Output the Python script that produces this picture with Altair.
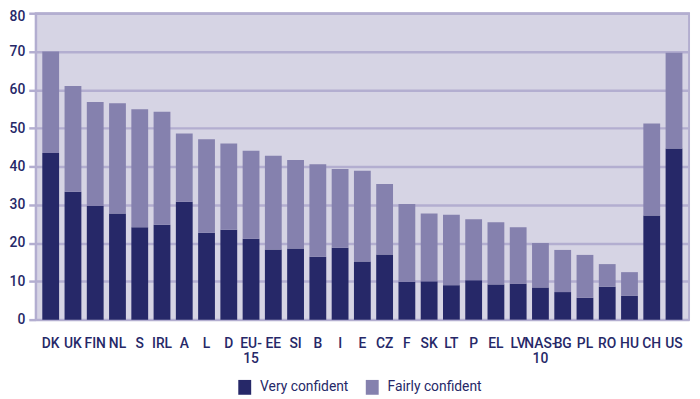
import altair as alt
import pandas as pd

countries = ["DK", "UK", "FIN", "NL", "S", "IRL", "A", "L", "D", "EU-15", "EE", "SI", "B", "I", "E",
             "CZ", "F", "SK", "LT", "P", "EL", "LV", "NAS-10", "BG", "PL", "RO", "HU", "CH", "US"]
very_confident = [43.5, 33.4, 29.7, 27.7, 24.1, 24.8, 30.8, 22.7, 23.5, 21.1, 18.3, 18.6, 16.4, 18.8, 15.2,
                  17.0, 9.9, 10.0, 9.0, 10.3, 9.2, 9.4, 8.4, 7.2, 5.7, 8.6, 6.2, 27.2, 44.7]
fairly_confident = [26.5, 27.6, 27.1, 28.8, 30.8, 29.5, 17.8, 24.4, 22.5, 23.0, 24.5, 23.1, 24.2, 20.5, 23.7,
                    18.4, 20.3, 17.7, 18.4, 15.9, 16.2, 14.7, 11.6, 11.0, 11.2, 5.9, 6.2, 24.0, 25.0]
series = ["Very confident", "Fairly confident"]
colors = ["#262868", "#8581ae"]

rows = []
for c, v, f in zip(countries, very_confident, fairly_confident):
    rows.append({"country": c, "series": series[0], "value": v, "order": 0})
    rows.append({"country": c, "series": series[1], "value": f, "order": 1})
df = pd.DataFrame(rows)

txt = "#262868"
grid = "#b3aed0"
font = "Roboto"

chart = alt.Chart(df).mark_bar(size=17).encode(
    x=alt.X("country:N", sort=countries, title=None,
            scale=alt.Scale(paddingInner=0.25, paddingOuter=0.3),
            axis=alt.Axis(labelAngle=0, ticks=False, domain=False, grid=False,
                          labelPadding=17, labelFontSize=14, labelColor=txt, labelFont=font,
                          labelFontWeight=500, labelLineHeight=15,
                          labelExpr="datum.label == 'EU-15' ? ['EU-', '15'] : datum.label == 'NAS-10' ? ['NAS-', '10'] : datum.label")),
    y=alt.Y("value:Q", stack="zero", title=None,
            scale=alt.Scale(domain=[0, 80], nice=False),
            axis=alt.Axis(values=[0, 10, 20, 30, 40, 50, 60, 70, 80], grid=True, gridColor=grid,
                          gridWidth=2.5, gridOpacity=1, domain=True, domainColor=grid, domainWidth=2,
                          tickColor=grid, tickSize=7, tickWidth=2.5, labelPadding=4,
                          labelOffset={"condition": {"test": "datum.value === 80", "value": 3}, "value": 0},
                          labelFontSize=14, labelColor=txt, labelFont=font, labelFontWeight=500)),
    color=alt.Color("series:N", scale=alt.Scale(domain=series, range=colors),
                    legend=alt.Legend(title=None, orient="none", direction="horizontal",
                                      legendX=204, legendY=371, padding=0,
                                      symbolType="M-0.87,-1L0.87,-1L0.87,1L-0.87,1Z",
                                      symbolSize=225, symbolOpacity=1, symbolStrokeWidth=0,
                                      labelFontSize=14, labelColor=txt, labelFont=font,
                                      labelOffset=8, columnPadding=16)),
    order=alt.Order("order:Q"),
).properties(
    width=661, height=310,
    padding={"left": 28, "top": 3, "right": 3, "bottom": 78},
    autosize=alt.AutoSizeParams(type="none"),
).configure_view(
    fill="#d6d4e4", stroke=grid, strokeWidth=2
)

chart.save("out.html", embed_options={"renderer": "svg", "actions": False})
